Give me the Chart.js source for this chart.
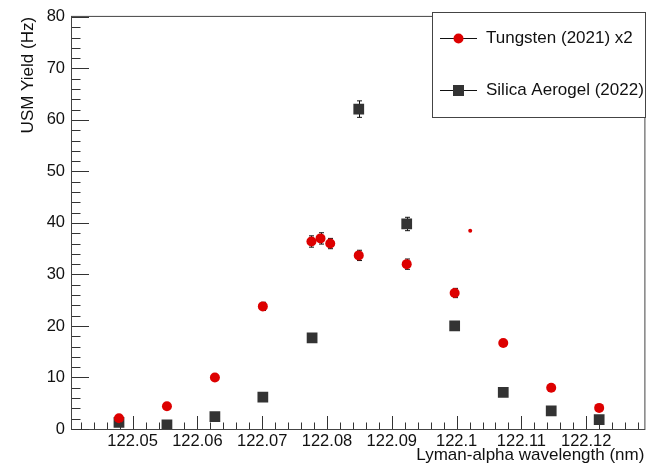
<!DOCTYPE html>
<html lang="en">
<head>
<meta charset="UTF-8">
<title>USM Yield</title>
<script src="https://cdn.jsdelivr.net/npm/chart.js"></script>
<style>
    body {
        margin: 0;
        padding: 0;
        background-color: #ffffff;
    }
</style>
</head>
<body>
<canvas id="myChart" width="652" height="466"></canvas>
<script>
    // Wavelengths (nm) and yields (Hz)
    const tungstenX = [122.0479, 122.0553, 122.0627, 122.0701, 122.0776, 122.0790, 122.0805, 122.0849, 122.0923, 122.0997, 122.1072, 122.1146, 122.1220];
    const tungstenY = [2.1, 4.4, 10.0, 23.8, 36.4, 37.0, 36.0, 33.7, 32.0, 26.4, 16.7, 8.0, 4.1];
    const tungstenErr = [0.3, 0.4, 0.5, 0.8, 1.1, 1.1, 1.0, 1.0, 1.0, 0.9, 0.6, 0.4, 0.3];

    const silicaX = [122.0479, 122.0553, 122.0627, 122.0701, 122.0777, 122.0849, 122.0923, 122.0997, 122.1072, 122.1146, 122.1220];
    const silicaY = [1.3, 0.8, 2.4, 6.2, 17.7, 62.1, 39.8, 20.0, 7.1, 3.5, 1.8];
    const silicaErr = [0.2, 0.2, 0.3, 0.4, 0.6, 1.6, 1.3, 0.7, 0.4, 0.3, 0.2];

    // lone small red marker
    const strayX = [122.1021];
    const strayY = [38.5];

    const xTickValues = [122.05, 122.06, 122.07, 122.08, 122.09, 122.10, 122.11, 122.12];
    const xTickLabels = ['122.05', '122.06', '122.07', '122.08', '122.09', '122.1', '122.11', '122.12'];
    const yTickValues = [0, 10, 20, 30, 40, 50, 60, 70, 80];
    const yTickLabels = ['0', '10', '20', '30', '40', '50', '60', '70', '80'];

    const FONT = "'Liberation Sans', Arial, Helvetica, sans-serif";
    const RED = '#dd0000';
    const DARK = '#333333';

    function toPoints(xs, ys) {
        return xs.map((x, i) => ({ x: x, y: ys[i] }));
    }

    // error bars, ROOT-style frame, inward ticks and boxed legend
    const rootStyle = {
        id: 'rootStyle',
        beforeDatasetsDraw(chart) {
            const ctx = chart.ctx;
            const yScale = chart.scales.y;
            ctx.save();
            ctx.strokeStyle = '#111';
            ctx.lineWidth = 1;
            chart.data.datasets.forEach((ds, di) => {
                if (!ds.errors) return;
                const meta = chart.getDatasetMeta(di);
                meta.data.forEach((pt, i) => {
                    const v = ds.data[i].y;
                    const e = ds.errors[i];
                    const x = Math.round(pt.x) + 0.5;
                    const y1 = yScale.getPixelForValue(v + e);
                    const y2 = yScale.getPixelForValue(v - e);
                    ctx.beginPath();
                    ctx.moveTo(x, y1);
                    ctx.lineTo(x, y2);
                    ctx.moveTo(x - 2.5, y1);
                    ctx.lineTo(x + 2.5, y1);
                    ctx.moveTo(x - 2.5, y2);
                    ctx.lineTo(x + 2.5, y2);
                    ctx.stroke();
                });
            });
            ctx.restore();
        },
        afterDraw(chart) {
            const ctx = chart.ctx;
            const area = chart.chartArea;
            const xs = chart.scales.x;
            const ys = chart.scales.y;
            ctx.save();
            ctx.strokeStyle = '#444';
            ctx.lineWidth = 1;
            ctx.strokeRect(area.left - 0.5, area.top - 0.5, area.right - area.left + 1, area.bottom - area.top + 1);

            ctx.strokeStyle = DARK;
            ctx.beginPath();
            // x ticks every 0.002, long ones every 0.01
            for (let k = Math.ceil(xs.min * 500); k <= Math.floor(xs.max * 500); k++) {
                const px = Math.round(xs.getPixelForValue(k / 500)) + 0.5;
                const len = (k % 5 === 0) ? 13 : 6.5;
                ctx.moveTo(px, area.bottom);
                ctx.lineTo(px, area.bottom - len);
            }
            // y ticks every 2, long ones every 10
            for (let v = 0; v <= 80; v += 2) {
                const py = Math.round(ys.getPixelForValue(v)) + 0.5;
                const len = (v % 10 === 0) ? 17 : 8.5;
                ctx.moveTo(area.left, py);
                ctx.lineTo(area.left + len, py);
            }
            ctx.stroke();

            // legend
            const lx = 432.5, ly = 12.5, lw = 213, lh = 105;
            ctx.fillStyle = '#ffffff';
            ctx.fillRect(lx, ly, lw, lh);
            ctx.strokeStyle = '#444';
            ctx.strokeRect(lx, ly, lw, lh);
            const rows = [38, 90];
            [0, 1].forEach((di, r) => {
                const ds = chart.data.datasets[di];
                const y = rows[r] + 0.5;
                ctx.strokeStyle = '#111';
                ctx.beginPath();
                ctx.moveTo(440, y);
                ctx.lineTo(477, y);
                ctx.stroke();
                ctx.fillStyle = ds.backgroundColor;
                if (ds.pointStyle === 'rect') {
                    ctx.fillRect(453, y - 5.5, 11, 11);
                } else {
                    ctx.beginPath();
                    ctx.arc(458.5, y, 5, 0, Math.PI * 2);
                    ctx.fill();
                }
                ctx.fillStyle = '#111';
                ctx.font = '17px ' + FONT;
                ctx.textAlign = 'left';
                ctx.textBaseline = 'middle';
                ctx.fillText(ds.label, 486, y);
            });
            ctx.restore();
        }
    };

    function createChart() {
        const ctx = document.getElementById('myChart').getContext('2d');
        new Chart(ctx, {
            type: 'scatter',
            data: {
                datasets: [
                    {
                        label: 'Tungsten (2021) x2',
                        data: toPoints(tungstenX, tungstenY),
                        errors: tungstenErr,
                        pointStyle: 'circle',
                        pointRadius: 5,
                        backgroundColor: RED,
                        borderColor: RED,
                        borderWidth: 0
                    },
                    {
                        label: 'Silica Aerogel (2022)',
                        data: toPoints(silicaX, silicaY),
                        errors: silicaErr,
                        pointStyle: 'rect',
                        pointRadius: 7.6,
                        backgroundColor: DARK,
                        borderColor: DARK,
                        borderWidth: 0
                    },
                    {
                        label: '',
                        data: toPoints(strayX, strayY),
                        pointStyle: 'circle',
                        pointRadius: 2,
                        backgroundColor: RED,
                        borderWidth: 0
                    }
                ]
            },
            options: {
                responsive: false,
                animation: false,
                devicePixelRatio: 1,
                layout: { padding: { left: 0, top: 13, right: 7, bottom: 0 } },
                plugins: {
                    legend: { display: false },
                    tooltip: { enabled: false }
                },
                scales: {
                    x: {
                        type: 'linear',
                        min: 122.04065,
                        max: 122.12898,
                        grid: { display: false, drawTicks: false },
                        border: { display: false },
                        afterBuildTicks: (scale) => {
                            scale.ticks = xTickValues.map(v => ({ value: v }));
                        },
                        afterFit: (scale) => { scale.height = 37; },
                        ticks: {
                            autoSkip: false,
                            maxRotation: 0,
                            padding: 3,
                            color: '#111',
                            font: { family: FONT, size: 16.5 },
                            callback: (value, index) => xTickLabels[index]
                        },
                        title: {
                            display: true,
                            text: 'Lyman-alpha wavelength (nm)',
                            align: 'end',
                            color: '#111',
                            font: { family: FONT, size: 17 },
                            padding: { top: 0, bottom: 0 }
                        }
                    },
                    y: {
                        min: 0,
                        max: 80,
                        grid: { display: false, drawTicks: false },
                        border: { display: false },
                        afterBuildTicks: (scale) => {
                            scale.ticks = yTickValues.map(v => ({ value: v }));
                        },
                        afterFit: (scale) => { scale.width = 72; },
                        ticks: {
                            padding: 7,
                            color: '#111',
                            font: { family: FONT, size: 16.5 },
                            callback: (value, index) => yTickLabels[index]
                        },
                        title: {
                            display: true,
                            text: 'USM Yield (Hz)',
                            align: 'end',
                            color: '#111',
                            font: { family: FONT, size: 17 },
                            padding: { top: 18, bottom: 0 }
                        }
                    }
                }
            },
            plugins: [rootStyle]
        });
    }

    createChart();
</script>
</body>
</html>
